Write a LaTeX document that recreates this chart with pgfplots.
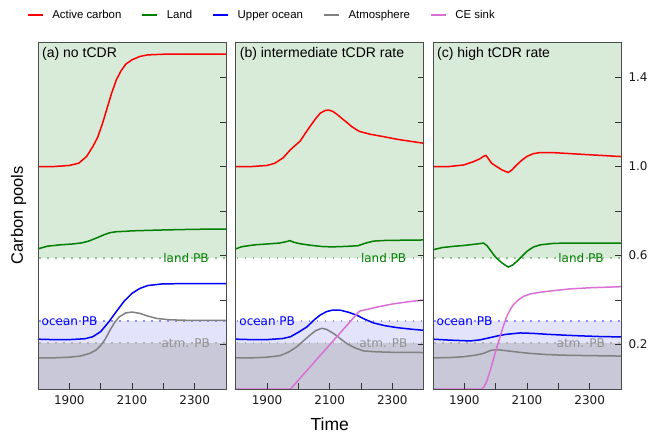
\documentclass[border=0pt]{standalone}
\usepackage{fontspec}
\setmainfont{Liberation Sans}
\newfontfamily\dejavu{DejaVu Sans}
\usepackage{pgfplots}
\pgfplotsset{compat=1.18}

\definecolor{cred}{RGB}{255,0,0}
\definecolor{cgreen}{RGB}{0,128,0}
\definecolor{cblue}{RGB}{0,0,255}
\definecolor{cgray}{RGB}{128,128,128}
\definecolor{csink}{RGB}{218,112,214}
\definecolor{landfill}{RGB}{216,234,216}
\definecolor{oceanfill}{RGB}{227,227,251}
\definecolor{atmfill}{RGB}{200,200,216}

% planetary boundaries
\def\landPB{0.59}
\def\oceanPB{0.307}
\def\atmPB{0.207}

\tikzset{
  series/.style={line width=1.5pt, line join=round, #1},
  pbline/.style={line width=1.6pt, dash pattern=on 1.6pt off 6.4pt, #1},
  pblabel/.style={font=\dejavu\fontsize{12}{14}\selectfont, inner sep=1pt},
  paneltitle/.style={font=\fontsize{14}{16}\selectfont, anchor=north west, inner sep=2pt},
}

\pgfplotsset{
  panel/.style={
    scale only axis, width=188pt, height=347pt, anchor=south west,
    xmin=1800, xmax=2400, ymin=0, ymax=1.56,
    xtick={1900,2000,2100,2200,2300}, xticklabels={1900,,2100,,2300},
    ytick={0.2,0.4,0.6,0.8,1.0,1.2,1.4}, yticklabels={},
    tick align=inside, xtick pos=bottom, ytick pos=right,
    major tick length=6pt, tick style={black!80, line width=0.8pt},
    axis line style={black!70, line width=0.8pt},
    ticklabel style={font=\dejavu\fontsize{12}{14}\selectfont, text=black!90},
    xticklabel style={yshift=-3pt},
    yticklabel style={xshift=4pt},
    clip=false, axis on top,
  },
}

% background zones and boundary lines, same in every panel
\newcommand\zones{
  \addplot[fill=landfill, draw=none, forget plot] coordinates {(1800,\landPB) (2400,\landPB) (2400,1.56) (1800,1.56)};
  \addplot[fill=oceanfill, draw=none, forget plot] coordinates {(1800,\atmPB) (2400,\atmPB) (2400,\oceanPB) (1800,\oceanPB)};
  \addplot[fill=atmfill, draw=none, forget plot] coordinates {(1800,0) (2400,0) (2400,\atmPB) (1800,\atmPB)};
  \addplot[pbline={color=cgreen!45}, forget plot] coordinates {(1803,\landPB) (2400,\landPB)};
  \addplot[pbline={color=cblue!45}, forget plot] coordinates {(1803,\oceanPB) (2400,\oceanPB)};
  \addplot[pbline={color=cgray!60}, forget plot] coordinates {(1803,\atmPB) (2400,\atmPB)};
  \node[pblabel, anchor=east, text=cgreen] at (axis cs:2348,\landPB) {land PB};
  \node[pblabel, anchor=west, text=cblue] at (axis cs:1808,\oceanPB) {ocean PB};
  \node[pblabel, anchor=east, text=cgray!85] at (axis cs:2352,\atmPB) {atm. PB};
}

\begin{document}
\begin{tikzpicture}
\path[use as bounding box] (0,0) rectangle (650pt,434pt);

% (a)
\begin{axis}[panel, at={(38pt,45pt)}]
  \zones
  \addplot[series={cred}] coordinates {(1800,1.0)(1850,1.0)(1900,1.005)(1930,1.015)(1955,1.045)(1975,1.09)(1990,1.13)(2005,1.19)(2020,1.26)(2035,1.33)(2050,1.39)(2065,1.43)(2080,1.46)(2100,1.48)(2125,1.495)(2150,1.502)(2200,1.505)(2400,1.506)};
  \addplot[series={cgreen}] coordinates {(1800,0.63)(1830,0.642)(1870,0.648)(1910,0.652)(1940,0.657)(1960,0.664)(1985,0.678)(2010,0.693)(2030,0.703)(2050,0.707)(2080,0.709)(2100,0.711)(2200,0.715)(2300,0.718)(2400,0.719)};
  \addplot[series={cblue}] coordinates {(1800,0.224)(1850,0.222)(1900,0.222)(1950,0.226)(1975,0.235)(2000,0.258)(2025,0.3)(2050,0.348)(2075,0.395)(2100,0.43)(2125,0.452)(2150,0.465)(2200,0.473)(2400,0.474)};
  \addplot[series={cgray}] coordinates {(1800,0.14)(1850,0.14)(1900,0.143)(1935,0.148)(1965,0.16)(1985,0.175)(2000,0.195)(2015,0.225)(2030,0.265)(2045,0.3)(2060,0.325)(2080,0.342)(2100,0.346)(2125,0.34)(2150,0.328)(2180,0.317)(2220,0.311)(2300,0.308)(2400,0.308)};
  \node[paneltitle] at (rel axis cs:0,1) [xshift=2pt,yshift=-3pt] {(a) no tCDR};
  \node[xshift=-19.5pt, rotate=90, font=\fontsize{16.5}{19}\selectfont] at (rel axis cs:0,0.5) {Carbon pools};
\end{axis}

% (b)
\begin{axis}[panel, at={(235.7pt,45pt)},
  legend columns=5,
  legend style={at={(axis description cs:-1.208,1.078)}, anchor=west, draw=none, fill=none,
    inner sep=0pt, font=\fontsize{11.4}{13}\selectfont},
  legend image code/.code={\draw[#1] (0pt,0pt) -- (15pt,0pt); \path[draw=none] (-19pt,0pt) (22.5pt,0pt);},
]
  \zones
  \addplot[series={cred}] coordinates {(1800,1.0)(1850,1.0)(1900,1.005)(1925,1.015)(1952,1.04)(1974,1.075)(1994,1.1)(2006,1.115)(2020,1.145)(2037,1.18)(2055,1.215)(2070,1.24)(2085,1.252)(2097,1.254)(2110,1.248)(2125,1.233)(2140,1.215)(2155,1.198)(2170,1.18)(2185,1.166)(2195,1.158)(2230,1.145)(2270,1.135)(2314,1.123)(2360,1.113)(2400,1.105)};
  \addplot[series={cgreen}] coordinates {(1800,0.63)(1820,0.64)(1860,0.648)(1900,0.652)(1940,0.656)(1960,0.662)(1973,0.667)(1985,0.66)(2005,0.653)(2040,0.646)(2080,0.64)(2110,0.639)(2150,0.641)(2190,0.644)(2215,0.656)(2240,0.665)(2280,0.668)(2400,0.67)};
  \addplot[series={cblue}] coordinates {(1800,0.224)(1850,0.222)(1900,0.222)(1950,0.227)(1975,0.235)(2000,0.255)(2027,0.279)(2050,0.31)(2069,0.332)(2090,0.348)(2110,0.355)(2135,0.354)(2160,0.345)(2186,0.332)(2210,0.315)(2240,0.297)(2275,0.285)(2314,0.276)(2360,0.269)(2400,0.264)};
  \addplot[series={cgray}] coordinates {(1800,0.14)(1850,0.14)(1900,0.143)(1942,0.15)(1970,0.167)(1995,0.19)(2015,0.215)(2037,0.242)(2055,0.262)(2074,0.273)(2090,0.268)(2112,0.25)(2135,0.225)(2155,0.204)(2180,0.185)(2208,0.171)(2250,0.167)(2300,0.165)(2400,0.164)};
  \addplot[series={csink}] coordinates {(1800,0)(1975,0)(2195,0.35)(2250,0.368)(2300,0.382)(2350,0.392)(2400,0.40)};
  \legend{Active carbon, Land, Upper ocean, Atmosphere, CE sink}
  \node[paneltitle] at (rel axis cs:0,1) [xshift=2pt,yshift=-3pt] {(b) intermediate tCDR rate};
  \node[font=\fontsize{17.5}{20}\selectfont] at (rel axis cs:0.5,0) [yshift=-35pt] {Time};
\end{axis}

% (c)
\begin{axis}[panel, at={(433pt,45pt)}, yticklabels={0.2,,0.6,,1.0,,1.4}]
  \zones
  \addplot[series={cred}] coordinates {(1800,1.0)(1850,1.0)(1897,1.007)(1929,1.022)(1950,1.035)(1962,1.047)(1969,1.05)(1977,1.035)(1987,1.015)(2003,1.0)(2020,0.985)(2040,0.973)(2052,0.985)(2067,1.007)(2083,1.028)(2099,1.045)(2120,1.058)(2142,1.063)(2180,1.063)(2216,1.06)(2300,1.053)(2400,1.045)};
  \addplot[series={cgreen}] coordinates {(1800,0.626)(1830,0.636)(1870,0.642)(1897,0.645)(1940,0.652)(1961,0.656)(1972,0.645)(1982,0.626)(1993,0.605)(2003,0.588)(2020,0.567)(2040,0.548)(2055,0.558)(2067,0.573)(2085,0.598)(2099,0.618)(2120,0.638)(2142,0.648)(2180,0.654)(2216,0.656)(2400,0.656)};
  \addplot[series={cblue}] coordinates {(1800,0.224)(1850,0.22)(1918,0.216)(1950,0.221)(1982,0.231)(2010,0.24)(2035,0.246)(2078,0.252)(2120,0.25)(2163,0.246)(2220,0.242)(2269,0.239)(2330,0.236)(2400,0.234)};
  \addplot[series={cgray}] coordinates {(1800,0.14)(1850,0.141)(1897,0.145)(1935,0.152)(1961,0.16)(1975,0.168)(1987,0.175)(2010,0.176)(2035,0.172)(2070,0.166)(2110,0.16)(2160,0.155)(2216,0.152)(2300,0.15)(2400,0.148)};
  \addplot[series={csink}] coordinates {(1800,0)(1955,0)(1963,0.01)(1971,0.033)(1982,0.08)(1992,0.13)(2003,0.185)(2014,0.235)(2025,0.285)(2035,0.325)(2046,0.356)(2056,0.378)(2070,0.398)(2088,0.416)(2110,0.427)(2142,0.435)(2190,0.443)(2237,0.45)(2300,0.455)(2400,0.46)};
  \node[paneltitle] at (rel axis cs:0,1) [xshift=2pt,yshift=-3pt] {(c) high tCDR rate};
\end{axis}
\end{tikzpicture}
\end{document}
